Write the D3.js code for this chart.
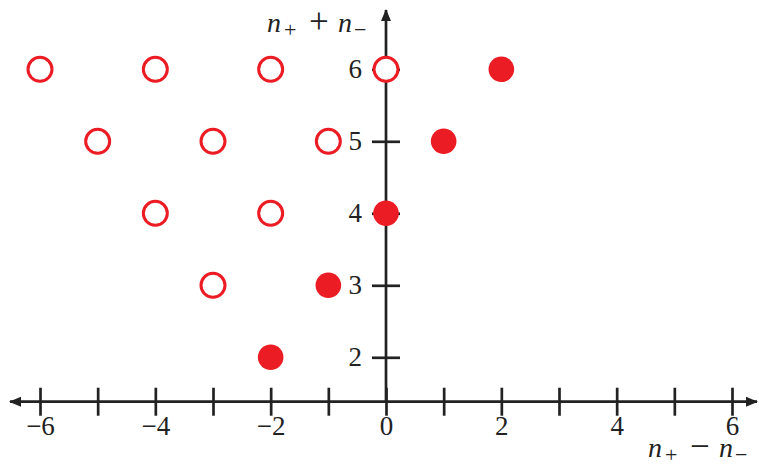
<!DOCTYPE html>
<html>
<head>
<meta charset="utf-8">
<script src="https://cdn.jsdelivr.net/npm/d3@7"></script>
<style>
  body { margin: 0; background: #fff; }
  text { font-family: "Liberation Serif", "DejaVu Serif", serif; fill: #222; }
</style>
</head>
<body>
<script>
// open (hollow) states
var openX = [-6, -4, -2, 0, -5, -3, -1, -4, -2, -3];
var openY = [6, 6, 6, 6, 5, 5, 5, 4, 4, 3];
// filled states
var fillX = [2, 1, 0, -1, -2];
var fillY = [6, 5, 4, 3, 2];
// ticks
var xTicks = [-6, -5, -4, -3, -2, -1, 0, 1, 2, 3, 4, 5, 6];
var yTicks = [2, 3, 4, 5, 6];

var red = "#ec1c24";
var ink = "#222";

var svg = d3.select("body").append("svg")
    .attr("width", 759)
    .attr("height", 467);

var x = d3.scaleLinear().domain([-6, 6]).range([40, 732]);
var y = d3.scaleLinear().domain([2, 6]).range([357.3, 69.3]);

// arrow heads
var defs = svg.append("defs");
defs.append("marker")
    .attr("id", "arrow")
    .attr("viewBox", "0 0 12 12")
    .attr("refX", 11).attr("refY", 6)
    .attr("markerWidth", 12).attr("markerHeight", 12)
    .attr("markerUnits", "userSpaceOnUse")
    .attr("orient", "auto-start-reverse")
    .append("path")
    .attr("d", "M0,1 L12,6 L0,11 Z")
    .attr("fill", ink);

var axisY0 = y(1.383); // where the horizontal axis sits

// horizontal axis
var xAxis = d3.axisBottom(x)
    .tickValues(xTicks)
    .tickSize(0)
    .tickPadding(14)
    .tickFormat(function(d) {
        if (d % 2 !== 0) return "";
        return d < 0 ? "\u2212" + Math.abs(d) : d;
    });

var gx = svg.append("g")
    .attr("transform", "translate(0," + axisY0 + ")")
    .call(xAxis);
gx.select(".domain").remove();
gx.selectAll(".tick line")
    .attr("y1", -14).attr("y2", 14)
    .attr("stroke", ink).attr("stroke-width", 2.7);
gx.selectAll(".tick text")
    .attr("font-size", 27)
    .attr("fill", ink);

svg.append("line")
    .attr("x1", 10).attr("x2", 757)
    .attr("y1", axisY0).attr("y2", axisY0)
    .attr("stroke", ink).attr("stroke-width", 2.7)
    .attr("marker-start", "url(#arrow)")
    .attr("marker-end", "url(#arrow)");

// vertical axis
var yAxis = d3.axisLeft(y)
    .tickValues(yTicks)
    .tickSize(0)
    .tickPadding(24)
    .tickFormat(d3.format("d"));

var gy = svg.append("g")
    .attr("transform", "translate(" + x(0) + ",0)")
    .call(yAxis);
gy.select(".domain").remove();
gy.selectAll(".tick line")
    .attr("x1", -14).attr("x2", 14)
    .attr("stroke", ink).attr("stroke-width", 2.7);
gy.selectAll(".tick text")
    .attr("font-size", 27)
    .attr("fill", ink);

svg.append("line")
    .attr("x1", x(0)).attr("x2", x(0))
    .attr("y1", axisY0).attr("y2", 10)
    .attr("stroke", ink).attr("stroke-width", 2.7)
    .attr("marker-end", "url(#arrow)");

// axis titles, built piece by piece: n, sub sign, operator, n, sub minus
function subLabel(tx, ty, op) {
    var g = svg.append("g").attr("transform", "translate(" + tx + "," + ty + ")");
    g.append("text").attr("x", 0).attr("font-size", 28)
        .attr("font-style", "italic").text("n");
    g.append("text").attr("x", 17).attr("y", 5).attr("font-size", 22).text("+");
    g.append("text").attr("x", 42).attr("y", 1).attr("font-size", 35).text(op);
    g.append("text").attr("x", 71).attr("font-size", 28)
        .attr("font-style", "italic").text("n");
    g.append("text").attr("x", 87).attr("y", 5).attr("font-size", 22).text("\u2212");
}
subLabel(267, 32, "+");
subLabel(648, 457, "\u2212");

// points
var openPts = openX.map(function(d, i) { return {x: d, y: openY[i]}; });
var fillPts = fillX.map(function(d, i) { return {x: d, y: fillY[i]}; });

svg.selectAll(".open")
    .data(openPts)
    .enter()
    .append("circle")
    .attr("class", "open")
    .attr("cx", function(d) { return x(d.x); })
    .attr("cy", function(d) { return y(d.y); })
    .attr("r", 12)
    .attr("fill", "#fff")
    .attr("stroke", red)
    .attr("stroke-width", 3);

svg.selectAll(".filled")
    .data(fillPts)
    .enter()
    .append("circle")
    .attr("class", "filled")
    .attr("cx", function(d) { return x(d.x); })
    .attr("cy", function(d) { return y(d.y); })
    .attr("r", 12.8)
    .attr("fill", red);
</script>
</body>
</html>
